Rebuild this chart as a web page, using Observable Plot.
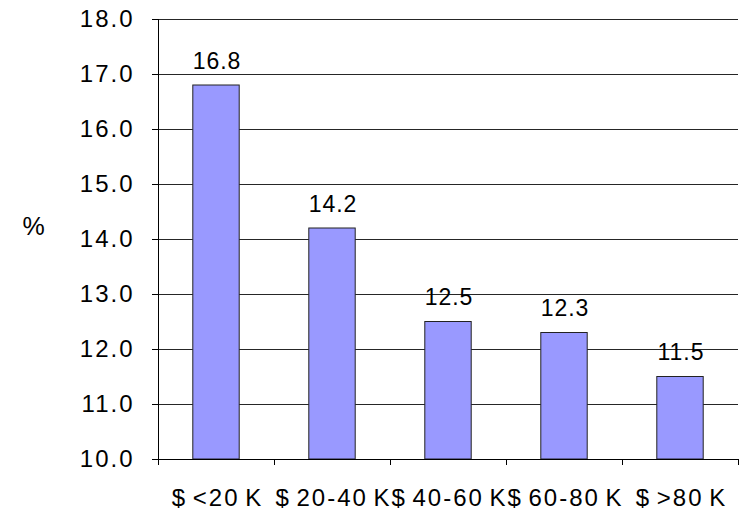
<!DOCTYPE html>
<html>
<head>
<meta charset="utf-8">
<script src="https://cdn.jsdelivr.net/npm/d3@7"></script>
<script src="https://cdn.jsdelivr.net/npm/@observablehq/plot@0.6"></script>
<style>
  html, body { margin: 0; padding: 0; background: #fff; }
  svg { display: block; }
  svg text { letter-spacing: 2px; word-spacing: -3px; }
  svg g[aria-label="text"] text { letter-spacing: 1px; word-spacing: 0; }
</style>
</head>
<body>
<div id="chart"></div>
<script>
const categories = ["$ <20 K", "$ 20-40 K", "$ 40-60 K", "$ 60-80 K", "$ >80 K"];
const values = [16.8, 14.2, 12.5, 12.3, 11.5];
const yTicks = [10, 11, 12, 13, 14, 15, 16, 17, 18];
const yLabel = "%";

const data = categories.map((c, i) => ({cat: c, idx: i, value: values[i]}));
const boundaries = d3.range(categories.length + 1);
const centers = categories.map((c, i) => i + 0.5);

const font = "Liberation Sans, Arial, sans-serif";

const chart = Plot.plot({
  width: 748,
  height: 512,
  marginLeft: 158,
  marginRight: 10,
  marginTop: 19,
  marginBottom: 53,
  style: {fontFamily: font, background: "#fff"},
  x: {type: "linear", domain: [0, categories.length]},
  y: {domain: [10, 18]},
  marks: [
    Plot.gridY(yTicks, {stroke: "#000", strokeOpacity: 0.85}),
    Plot.rectY(data, {x1: d => d.idx + 0.3, x2: d => d.idx + 0.7, y1: 10, y2: "value", fill: "#9999ff", stroke: "#222", strokeWidth: 1}),
    Plot.text(data, {x: d => d.idx + 0.5, y: "value", text: d => d.value.toFixed(1), lineAnchor: "bottom", dy: -17, dx: 0.5, fontSize: 23, fill: "#000"}),
    Plot.axisY({ticks: yTicks, tickFormat: d => d.toFixed(1), tickSize: 6, tickPadding: 18, fontSize: 24, label: null, stroke: "#000", color: "#000"}),
    Plot.axisX({ticks: boundaries, tickFormat: () => "", tickSize: 6, label: null, stroke: "#000"}),
    Plot.axisX({ticks: centers, tickFormat: (d) => categories[Math.round(d - 0.5)], tickSize: 0, tickPadding: 29, dx: 1, fontSize: 24, label: null, color: "#000"}),
    Plot.ruleX([0], {stroke: "#000"}),
    Plot.ruleY([10], {stroke: "#000"}),
    Plot.text([yLabel], {frameAnchor: "left", dx: -136, dy: -13, fontSize: 25, fill: "#000"})
  ]
});
document.getElementById("chart").appendChild(chart);
</script>
</body>
</html>
